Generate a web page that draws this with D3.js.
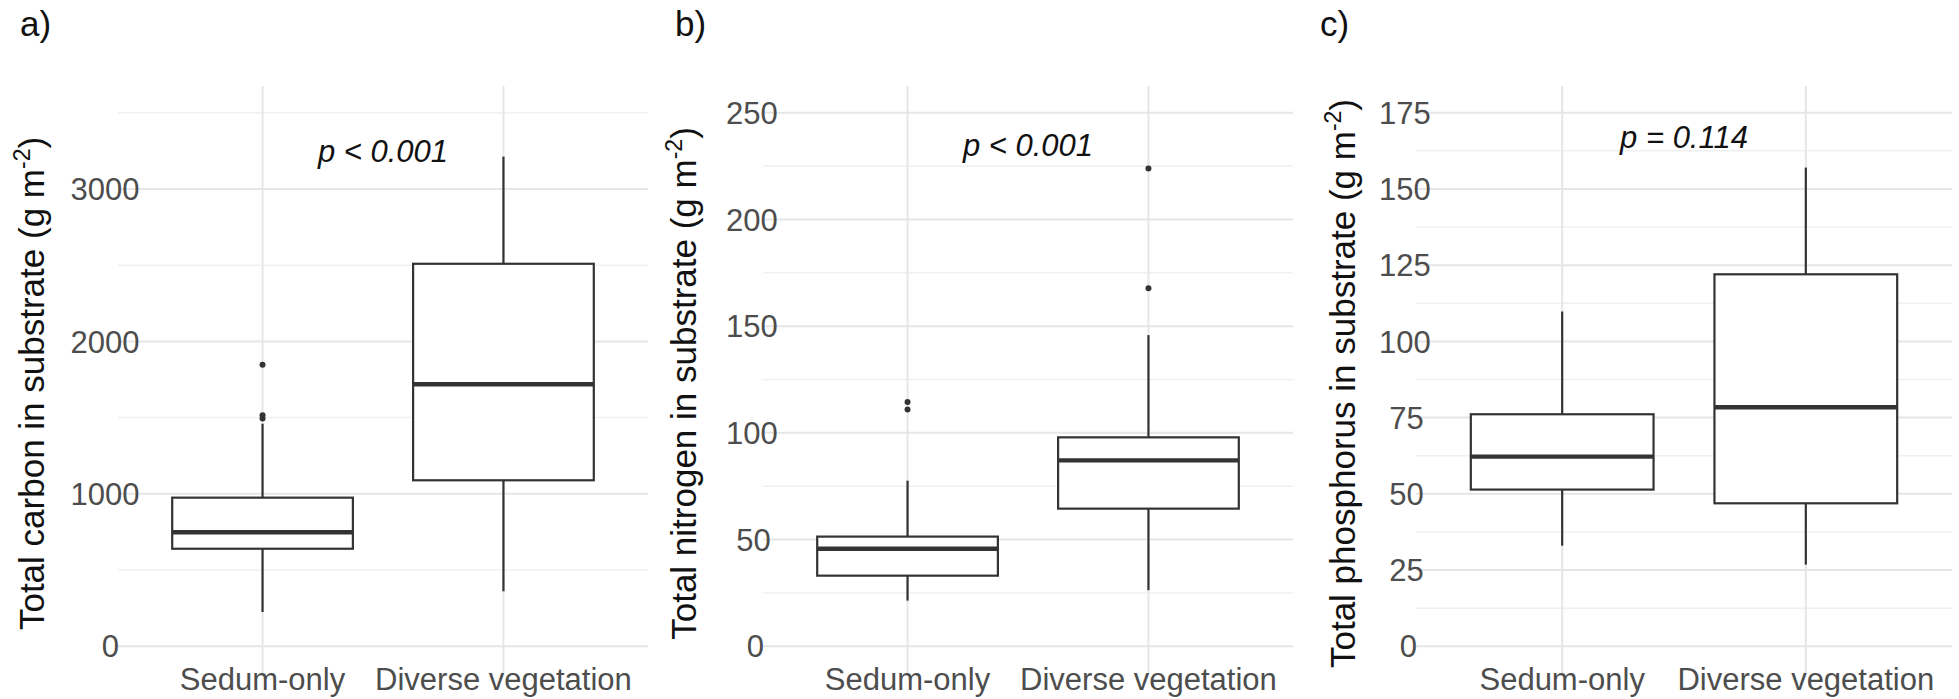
<!DOCTYPE html>
<html>
<head>
<meta charset="utf-8">
<script src="https://cdn.jsdelivr.net/npm/d3@7"></script>
<style>
  body { margin: 0; background: #fff; }
  text { font-family: "Liberation Sans", Arial, Helvetica, sans-serif; }
</style>
</head>
<body>
<svg id="chart" width="1959" height="699"></svg>
<script>
// groups on the x axis
const categories = ['Sedum-only', 'Diverse vegetation'];

// box stats per group: [lower whisker, Q1, median, Q3, upper whisker]
const carbonBoxes = [[225, 640, 748, 975, 1460], [361, 1089, 1719, 2509, 3212]];
const carbonOutliers = [[1495, 1515, 1846], []];
const carbonTicks = [0, 1000, 2000, 3000];

const nitrogenBoxes = [[21.4, 33.1, 45.7, 51.4, 77.6], [26.3, 64.5, 87.1, 97.9, 145.8]];
const nitrogenOutliers = [[111, 114.5], [167.8, 223.8]];
const nitrogenTicks = [0, 50, 100, 150, 200, 250];

const phosphorusBoxes = [[33.0, 51.4, 62.2, 76.1, 109.8], [26.8, 46.9, 78.4, 122, 157]];
const phosphorusOutliers = [[], []];
const phosphorusTicks = [0, 25, 50, 75, 100, 125, 150, 175];

const panels = [
  { tag: 'a)', tagX: 20, left: 118, width: 530, titleX: 44, title: 'Total carbon in substrate', max: 3500, step: 500,
    boxes: carbonBoxes, outliers: carbonOutliers, ticks: carbonTicks, p: 'p < 0.001', pY: 3250 },
  { tag: 'b)', tagX: 675, left: 763, width: 530, titleX: 696, title: 'Total nitrogen in substrate', max: 250, step: 25,
    boxes: nitrogenBoxes, outliers: nitrogenOutliers, ticks: nitrogenTicks, p: 'p < 0.001', pY: 235 },
  { tag: 'c)', tagX: 1320, left: 1416, width: 536, titleX: 1355, title: 'Total phosphorus in substrate', max: 175, step: 12.5,
    boxes: phosphorusBoxes, outliers: phosphorusOutliers, ticks: phosphorusTicks, p: 'p = 0.114', pY: 167 }
];

const svg = d3.select('#chart');
svg.append('rect').attr('width', 1959).attr('height', 699).attr('fill', '#fff');

const panelTop = 86;
const panelBottom = 673;
const ink = '#333333';

const drawPanel = (cfg) => {
  let x = d3.scalePoint().domain(categories).range([cfg.left, cfg.left + cfg.width]).padding(0.6);
  let y = d3.scaleLinear().domain([-0.05 * cfg.max, 1.05 * cfg.max]).range([panelBottom, panelTop]);
  let g = svg.append('g');

  // minor grid
  let minor = d3.range(0, cfg.max + 1e-9, cfg.step).filter(v => cfg.ticks.indexOf(v) < 0);
  g.selectAll('.minor').data(minor).enter().append('line')
    .attr('x1', cfg.left).attr('x2', cfg.left + cfg.width)
    .attr('y1', d => y(d)).attr('y2', d => y(d))
    .attr('stroke', '#f0f0f0').attr('stroke-width', 1.5);
  // major grid
  g.selectAll('.major').data(cfg.ticks).enter().append('line')
    .attr('x1', cfg.left).attr('x2', cfg.left + cfg.width)
    .attr('y1', d => y(d)).attr('y2', d => y(d))
    .attr('stroke', '#e6e6e6').attr('stroke-width', 2);
  g.selectAll('.vgrid').data(categories).enter().append('line')
    .attr('x1', d => x(d)).attr('x2', d => x(d))
    .attr('y1', panelTop).attr('y2', panelBottom)
    .attr('stroke', '#e6e6e6').attr('stroke-width', 2);

  // y tick labels (sit a little into the panel, like the source)
  let anchor = cfg.left - 6;
  g.selectAll('.ylab').data(cfg.ticks).enter().append('text')
    .attr('y', d => y(d)).attr('dy', '0.36em')
    .attr('font-size', 31).attr('fill', '#4d4d4d')
    .text(d => d)
    .attr('x', function () { return anchor - 0.6 * this.getComputedTextLength(); });

  // x tick labels
  g.selectAll('.xlab').data(categories).enter().append('text')
    .attr('x', d => x(d)).attr('y', 690)
    .attr('text-anchor', 'middle').attr('font-size', 31).attr('fill', '#4d4d4d')
    .text(d => d);

  // y title
  let title = g.append('text')
    .attr('transform', `translate(${cfg.titleX},${(panelTop + panelBottom) / 2 + 4}) rotate(-90)`)
    .attr('text-anchor', 'middle').attr('font-size', 35).attr('fill', '#111');
  title.append('tspan').text(cfg.title + ' (g m');
  title.append('tspan').attr('font-size', 23).attr('dy', -14).text('-2');
  title.append('tspan').attr('dy', 14).text(')');

  // panel tag
  svg.append('text').attr('x', cfg.tagX).attr('y', 36)
    .attr('font-size', 35).attr('fill', '#111').text(cfg.tag);

  // boxes
  let bw = x.step() * 0.75;
  let box = g.selectAll('.box').data(cfg.boxes).enter().append('g');
  box.append('line')
    .attr('x1', (d, i) => x(categories[i])).attr('x2', (d, i) => x(categories[i]))
    .attr('y1', d => y(d[0])).attr('y2', d => y(d[1]))
    .attr('stroke', ink).attr('stroke-width', 2.2);
  box.append('line')
    .attr('x1', (d, i) => x(categories[i])).attr('x2', (d, i) => x(categories[i]))
    .attr('y1', d => y(d[3])).attr('y2', d => y(d[4]))
    .attr('stroke', ink).attr('stroke-width', 2.2);
  box.append('rect')
    .attr('x', (d, i) => x(categories[i]) - bw / 2).attr('width', bw)
    .attr('y', d => y(d[3])).attr('height', d => y(d[1]) - y(d[3]))
    .attr('fill', '#fff').attr('stroke', ink).attr('stroke-width', 2.2);
  box.append('line')
    .attr('x1', (d, i) => x(categories[i]) - bw / 2).attr('x2', (d, i) => x(categories[i]) + bw / 2)
    .attr('y1', d => y(d[2])).attr('y2', d => y(d[2]))
    .attr('stroke', ink).attr('stroke-width', 4.4);

  // outliers
  cfg.outliers.forEach((list, i) => {
    g.selectAll(`.out-${i}`).data(list).enter().append('circle')
      .attr('cx', x(categories[i])).attr('cy', d => y(d)).attr('r', 3)
      .attr('fill', ink);
  });

  // p value
  g.append('text')
    .attr('x', (x(categories[0]) + x(categories[1])) / 2).attr('y', y(cfg.pY)).attr('dy', '0.35em')
    .attr('text-anchor', 'middle').attr('font-size', 31).attr('font-style', 'italic').attr('fill', '#111')
    .text(cfg.p);
};

panels.forEach(drawPanel);
</script>
</body>
</html>
